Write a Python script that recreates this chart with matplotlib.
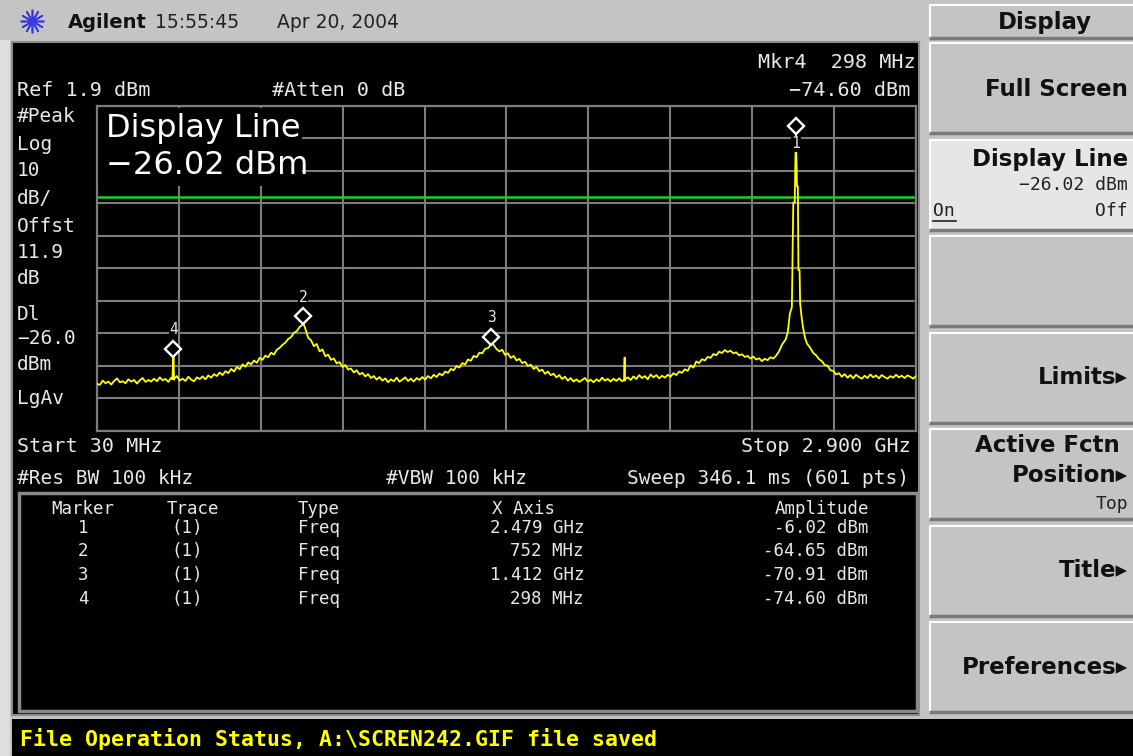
import numpy as np
import matplotlib.pyplot as plt
from matplotlib.patches import Rectangle
from matplotlib.transforms import offset_copy

# ---- instrument settings / data ----
ref_level_dbm = 1.9
db_per_div = 10
start_mhz, stop_mhz = 30, 2900
display_line_dbm = -26.02

# trace, 10 MHz steps from 30 to 2430 MHz
base_freq_mhz = np.arange(30, 2431, 10)
base_dbm = [
    -83.6, -83.9, -82.6, -83.4, -82.9, -83.8, -82.7, -81.9, -83.1, -82.8,
    -83.4, -82.2, -82.9, -82.4, -83.5, -82.5, -81.8, -83.0, -82.4, -82.9,
    -82.0, -82.8, -81.6, -82.5, -82.1, -83.0, -81.7, -82.3, -81.2, -82.6,
    -82.0, -82.7, -81.4, -82.3, -82.8, -81.6, -82.1, -81.3, -82.2, -81.0,
    -81.7, -80.6, -81.2, -80.1, -80.9, -79.7, -80.3, -79.0, -79.8, -78.4,
    -79.1, -77.6, -78.3, -77.0, -77.6, -76.4, -77.1, -75.6, -76.2, -74.9,
    -75.4, -74.0, -74.6, -73.1, -72.5, -71.6, -70.9, -69.8, -69.2, -67.9,
    -67.4, -66.1, -65.4, -66.6, -69.4, -70.2, -72.0, -71.3, -73.6, -73.0,
    -75.1, -74.6, -76.2, -75.8, -77.3, -76.9, -78.4, -77.8, -79.2, -78.9,
    -80.1, -79.4, -80.7, -80.2, -81.3, -80.6, -81.8, -81.2, -82.3, -81.5,
    -82.6, -81.9, -83.1, -82.2, -82.8, -81.7, -82.9, -82.3, -81.6, -82.7,
    -82.0, -82.9, -81.8, -82.4, -81.5, -82.3, -81.2, -81.9, -80.8, -81.5,
    -80.4, -81.0, -79.8, -80.2, -79.0, -79.4, -78.1, -78.6, -77.2, -77.6,
    -76.1, -76.5, -75.0, -75.4, -74.0, -74.2, -72.8, -72.6, -71.5, -71.6,
    -72.9, -73.6, -73.1, -74.7, -74.2, -75.6, -75.0, -76.4, -75.9, -77.2,
    -76.8, -78.1, -77.7, -79.0, -78.4, -79.7, -79.2, -80.5, -79.8, -80.9,
    -80.5, -81.6, -80.9, -82.1, -81.4, -82.6, -81.8, -82.9, -82.2, -83.0,
    -82.4, -81.8, -82.9, -82.3, -83.1, -82.2, -82.8, -81.7, -82.6, -82.1,
    -82.9, -82.0, -82.7, -81.9, -82.8, -82.6, -81.6, -82.4, -81.3, -82.1,
    -80.9, -81.8, -81.2, -82.2, -80.7, -81.6, -80.9, -81.9, -81.1, -81.7,
    -80.8, -81.4, -80.3, -80.9, -79.8, -80.2, -79.1, -79.6, -77.9, -78.6,
    -76.7, -77.2, -76.0, -76.4, -75.3, -75.6, -74.4, -74.8, -73.7, -74.1,
    -73.2, -73.8, -73.4, -74.2, -73.9, -74.8, -74.5, -75.3, -75.0, -75.8,
    -75.2, -76.1, -75.7, -76.6, -75.9, -76.3, -75.4, -75.8, -74.9, -73.6,
    -71.6,
]
# the 2.479 GHz carrier
peak_freq_mhz = [2444, 2451, 2458, 2465, 2470, 2475, 2479, 2483, 2486, 2488, 2492,
                 2494, 2499, 2504, 2511, 2518]
peak_dbm = [-69.8, -67.5, -62.0, -60.0, -27.8, -27.8, -6.02, -22.9, -22.9, -48.6, -48.6,
            -58.8, -63.0, -66.2, -69.4, -71.2]
# trace above the carrier, 10 MHz steps
tail_freq_mhz = np.arange(2530, 2901, 10)
tail_dbm = [
    -72.6, -74.1, -74.8, -76.0, -76.6, -77.8, -78.0, -79.4, -79.6, -80.7,
    -80.3, -81.4, -80.6, -81.7, -80.9, -81.9, -80.8, -81.5, -82.0, -81.1,
    -81.8, -80.7, -81.6, -81.0, -81.9, -80.9, -81.5, -82.0, -81.2, -81.7,
    -80.8, -81.6, -81.1, -81.8, -81.0, -81.4, -82.0, -81.2,
]
# narrow spurs and hump tops
spur_freq_mhz = [294, 298, 302, 752, 1412, 1877, 1879, 1881]
spur_dbm = [-82.2, -74.6, -81.9, -64.65, -70.91, -82.4, -75.5, -82.1]

marker_ids = [1, 2, 3, 4]
marker_freq_mhz = [2479, 752, 1412, 298]
marker_dbm = [-6.02, -64.65, -70.91, -74.60]

left_labels = ['#Peak', 'Log', '10', 'dB/', 'Offst', '11.9', 'dB', 'Dl', '\u221226.0', 'dBm', 'LgAv']
left_label_y = [117, 145, 170, 199, 227, 252, 279, 315, 339, 365, 399]

W, H = 1133, 756
MONO = 'DejaVu Sans Mono'
SANS = 'DejaVu Sans'
FG = '#e8e8e8'
PANEL = '#c4c4c4'


def minus(s):
    return s.replace('-', '\u2212')


def fmt_freq(f):
    return f'{f / 1000:.3f} GHz' if f >= 1000 else f'{f:.0f} MHz'


freq = np.concatenate([base_freq_mhz, peak_freq_mhz, tail_freq_mhz, spur_freq_mhz]).astype(float)
level = np.concatenate([base_dbm, peak_dbm, tail_dbm, spur_dbm])
order = np.argsort(freq, kind='stable')
freq, level = freq[order], level[order]

fig = plt.figure(figsize=(W / 100, H / 100), dpi=100, facecolor=PANEL)

# ---- chrome (pixel coordinates) ----
ax0 = fig.add_axes([0, 0, 1, 1])
ax0.set_xlim(0, W)
ax0.set_ylim(H, 0)
ax0.axis('off')

ax0.add_patch(Rectangle((0, 40), 10, H - 40, facecolor='#dedede', edgecolor='none'))
ax0.plot([32], [21], marker=(12, 2, 0), ms=17, mew=1.2, color='#3a3adf')
ax0.text(68, 22, 'Agilent', fontsize=14, fontweight='bold', family=SANS, va='center', color='#111111')
ax0.text(155, 22, '15:55:45', fontsize=13.5, family=SANS, va='center', color='#222222')
ax0.text(277, 22, 'Apr 20, 2004', fontsize=13.5, family=SANS, va='center', color='#222222')

# black screen
ax0.add_patch(Rectangle((12, 42), 907, 673, facecolor='black', edgecolor='#8c8c8c', lw=1.5))
ax0.add_patch(Rectangle((12, 719), W - 12, 37, facecolor='black', edgecolor='none'))
ax0.text(20, 739, 'File Operation Status, A:\\SCREN242.GIF file saved', fontsize=15.5,
         fontweight='bold', family=MONO, va='center', color='#ffff00')


def stxt(x, y, s, ha='left', size=14.5, color=FG):
    ax0.text(x, y, s, ha=ha, va='center', family=MONO, fontsize=size, color=color)


stxt(916, 62, f'Mkr4  {marker_freq_mhz[3]} MHz', ha='right')
stxt(17, 91, f'Ref {ref_level_dbm} dBm')
stxt(272, 91, '#Atten 0 dB')
stxt(910, 91, minus(f'{marker_dbm[3]:.2f} dBm'), ha='right')
for s, y in zip(left_labels, left_label_y):
    stxt(17, y, s, size=14)
stxt(17, 447, f'Start {start_mhz} MHz')
stxt(911, 447, f'Stop {stop_mhz / 1000:.3f} GHz', ha='right')
stxt(17, 478, '#Res BW 100 kHz', size=14)
stxt(386, 478, '#VBW 100 kHz', size=14)
stxt(909, 478, 'Sweep 346.1 ms (601 pts)', ha='right', size=14)

# marker table
ax0.add_patch(Rectangle((19, 493), 898, 218, facecolor='black', edgecolor='#8a8a8a', lw=2.5))
tsz = 12.5
stxt(83, 509, 'Marker', ha='center', size=tsz)
stxt(193, 509, 'Trace', ha='center', size=tsz)
stxt(298, 509, 'Type', size=tsz)
stxt(524, 509, 'X Axis', ha='center', size=tsz)
stxt(822, 509, 'Amplitude', ha='center', size=tsz)
for i, (m, f, a) in enumerate(zip(marker_ids, marker_freq_mhz, marker_dbm)):
    y = 528 + 23.5 * i
    stxt(83, y, str(m), ha='center', size=tsz)
    stxt(187, y, '(1)', ha='center', size=tsz)
    stxt(298, y, 'Freq', size=tsz)
    stxt(584, y, fmt_freq(f), ha='right', size=tsz)
    stxt(868, y, f'{a:.2f} dBm', ha='right', size=tsz)

# softkey panel
def bevel(x, y, w, h, face):
    ax0.add_patch(Rectangle((x, y), w, h, facecolor=face, edgecolor='none'))
    ax0.plot([x, x + w], [y + 1, y + 1], color='white', lw=1.5, solid_capstyle='butt')
    ax0.plot([x + 1, x + 1], [y, y + h], color='white', lw=1.5, solid_capstyle='butt')
    ax0.plot([x, x + w], [y + h - 1, y + h - 1], color='#7a7a7a', lw=2.5, solid_capstyle='butt')


KX, KW, KR = 929, 204, 1128
bevel(KX, 4, KW, 35, PANEL)
ax0.text(1045, 22, 'Display', fontsize=16.5, fontweight='bold', family=SANS, ha='center',
         va='center', color='#111111')
key_tops = [42 + 96.5 * i for i in range(7)]
for i, top in enumerate(key_tops):
    bevel(KX, top, KW, 92, '#e6e6e6' if i == 1 else PANEL)


def key(y, s, bold=True, ha='right', x=KR):
    if bold:
        ax0.text(x, y, s, fontsize=16.5, fontweight='bold', family=SANS, ha=ha, va='center', color='#111111')
    else:
        ax0.text(x, y, s, fontsize=13, family=MONO, ha=ha, va='center', color='#222222')


key(key_tops[0] + 47, 'Full Screen')
key(key_tops[1] + 21, 'Display Line')
key(key_tops[1] + 47, minus(f'{display_line_dbm:.2f} dBm'), bold=False)
key(key_tops[1] + 72, 'On', bold=False, ha='left', x=933)
ax0.plot([933, 956], [key_tops[1] + 82, key_tops[1] + 82], color='#222222', lw=1.2)
key(key_tops[1] + 72, 'Off', bold=False)
key(key_tops[3] + 46, 'Limits\u25b8')
key(key_tops[4] + 18, 'Active Fctn ')
key(key_tops[4] + 48, 'Position\u25b8')
key(key_tops[4] + 76, 'Top', bold=False)
key(key_tops[5] + 46, 'Title\u25b8')
key(key_tops[6] + 46, 'Preferences\u25b8')

# ---- graticule ----
gl, gr, gt, gb = 97, 916, 106, 431
ax = fig.add_axes([gl / W, 1 - gb / H, (gr - gl) / W, (gb - gt) / H], facecolor='black')
ax.set_xlim(start_mhz, stop_mhz)
ax.set_ylim(ref_level_dbm - 10 * db_per_div, ref_level_dbm)
ax.set_xticks(np.linspace(start_mhz, stop_mhz, 11))
ax.set_yticks(np.linspace(ref_level_dbm - 10 * db_per_div, ref_level_dbm, 11))
ax.grid(color='#7c7c7c', lw=1.5)
ax.tick_params(length=0, labelbottom=False, labelleft=False)
for sp in ax.spines.values():
    sp.set_color('#7c7c7c')
    sp.set_linewidth(1.6)

ax.plot(freq, level, color='#ffff00', lw=1.3, zorder=3)
ax.axhline(display_line_dbm, color='#1fd21f', lw=1.8, zorder=2.5)

up = offset_copy(ax.transData, fig=fig, x=0, y=6, units='dots')
for m, f, a in zip(marker_ids, marker_freq_mhz, marker_dbm):
    ax.plot([f], [a], marker='D', ms=8, mfc='black', mec='white', mew=1.7,
            transform=up, zorder=5, clip_on=False)
    dy = -12 if m == 1 else 25
    ax.text(f, a, str(m), transform=offset_copy(ax.transData, fig=fig, x=0, y=dy, units='dots'),
            ha='center', va='center', color=FG, family=MONO, fontsize=10.5, zorder=6,
            bbox=dict(facecolor='black', edgecolor='none', pad=0.3))

# active function readout over the graticule
ax2 = fig.add_axes([0, 0, 1, 1], facecolor='none')
ax2.set_xlim(0, W)
ax2.set_ylim(H, 0)
ax2.axis('off')
ax2.add_patch(Rectangle((97.9, 107.9), 204, 78, facecolor='black', edgecolor='none'))
ax2.text(106, 128, 'Display Line', fontsize=23, family=SANS, va='center', color='white')
ax2.text(106, 165, minus(f'{display_line_dbm:.2f} dBm'), fontsize=23, family=SANS, va='center', color='white')

fig.savefig('out.png', dpi=100, facecolor=fig.get_facecolor())
